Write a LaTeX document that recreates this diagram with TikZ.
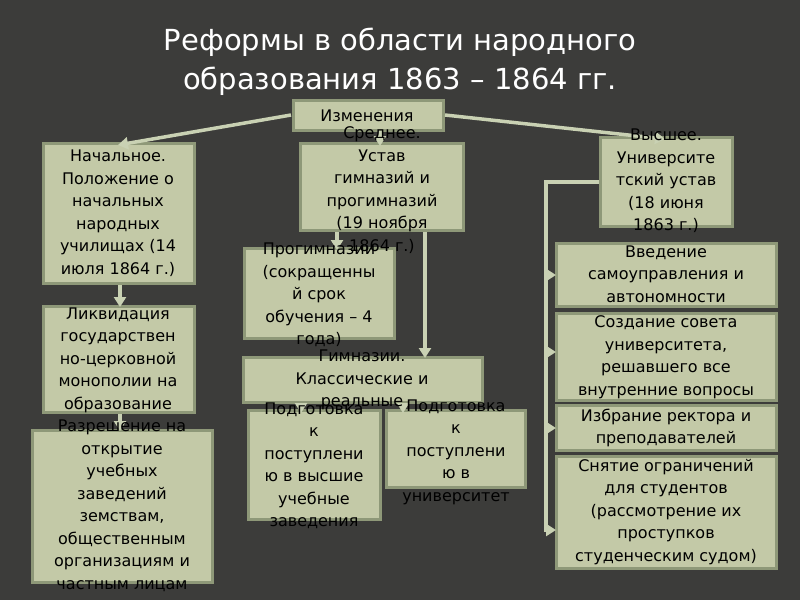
\documentclass[tikz,border=0pt]{standalone}
\usepackage{fontspec}
\setmainfont{DejaVu Sans}
\usetikzlibrary{arrows.meta}
\definecolor{bg}{HTML}{3C3C3A}
\definecolor{boxf}{HTML}{C3C9A7}
\definecolor{boxd}{HTML}{8E9878}
\definecolor{ln}{HTML}{C9D1B3}
\begin{document}
\begin{tikzpicture}[x=1pt,y=-1pt,
  bx/.style={fill=boxf,draw=boxd,line width=3pt},
  tx/.style={align=center,font=\fontsize{16}{22.5}\selectfont,text=black,inner sep=0},
  con/.style={draw=ln,line width=3.5pt,-{Triangle[length=10pt,width=12pt]}},
  lnn/.style={draw=ln,line width=3.5pt}]
\fill[bg] (0,0) rectangle (800,600);
\node[text=white,align=center,font=\fontsize{29}{39}\selectfont] (title) at (400,62) {Реформы в области народного\\образования 1863 – 1864 гг.};
\newcommand\bxn[5]{\path[bx] (#2,#3) rectangle (#4,#5); \coordinate (#1) at ({(#2+#4)/2},{(#3+#5)/2});}
\coordinate (j) at (546,182);
\draw[lnn] (600,182) -- (j) -- (546,530);
\bxn{izm}{293}{100}{443}{130}
\bxn{nach}{43}{143}{194}{283}
\bxn{sred}{300}{143}{463}{230}
\bxn{vys}{600}{137}{732}{226}
\bxn{prog}{244}{248}{394}{338}
\bxn{gimn}{243}{357}{482}{402}
\bxn{pod1}{248}{410}{380}{519}
\bxn{pod2}{386}{410}{525}{487}
\bxn{likv}{43}{306}{194}{412}
\bxn{razr}{32}{430}{212}{582}
\bxn{vved}{556}{243}{776}{306}
\bxn{sozd}{556}{313}{776}{400}
\bxn{izbr}{556}{405}{776}{450}
\bxn{snat}{556}{456}{776}{568}
\draw[con] (291,115) -- (118,145);
\draw[con] (445,115) -- (665,139);
\draw[con] (380,131) -- (380,146);
\draw[con] (120,285) -- (120,307);
\draw[con] (120,414) -- (120,431);
\draw[con] (337,232) -- (337,250);
\draw[con] (425,232) -- (425,358);
\draw[con] (301,404) -- (301,413);
\draw[con] (403,404) -- (403,413);
\draw[con] (544,275) -- (556,275);
\draw[con] (544,352) -- (556,352);
\draw[con] (544,428) -- (556,428);
\draw[con] (544,530) -- (556,530);
\node[tx] (t1) at (367,116) {Изменения};
\node[tx] (t2) at (118,213) {Начальное.\\Положение о\\начальных\\народных\\училищах (14\\июля 1864 г.)};
\node[tx] (t3) at (382,190) {Среднее.\\Устав\\гимназий и\\прогимназий\\(19 ноября\\1864 г.)};
\node[tx] (t4) at (666,181) {Высшее.\\Университе\\тский устав\\(18 июня\\1863 г.)};
\node[tx] (t5) at (319,295) {Прогимназии\\(сокращенны\\й срок\\обучения – 4\\года)};
\node[tx] (t6) at (362,380) {Гимназии.\\Классические и\\реальные};
\node[tx] (t7) at (314,466) {Подготовка\\к\\поступлени\\ю в высшие\\учебные\\заведения};
\node[tx] (t8) at (456,452) {Подготовка\\к\\поступлени\\ю в\\университет};
\node[tx] (t9) at (118,360) {Ликвидация\\государствен\\но-церковной\\монополии на\\образование};
\node[tx] (t10) at (122,506) {Разрешение на\\открытие\\учебных\\заведений\\земствам,\\общественным\\организациям и\\частным лицам};
\node[tx] (t11) at (666,274) {Введение\\самоуправления и\\автономности};
\node[tx] (t12) at (666,357) {Создание совета\\университета,\\решавшего все\\внутренние вопросы};
\node[tx] (t13) at (666,428) {Избрание ректора и\\преподавателей};
\node[tx] (t14) at (666,512) {Снятие ограничений\\для студентов\\(рассмотрение их\\проступков\\студенческим судом)};
\end{tikzpicture}
\end{document}
